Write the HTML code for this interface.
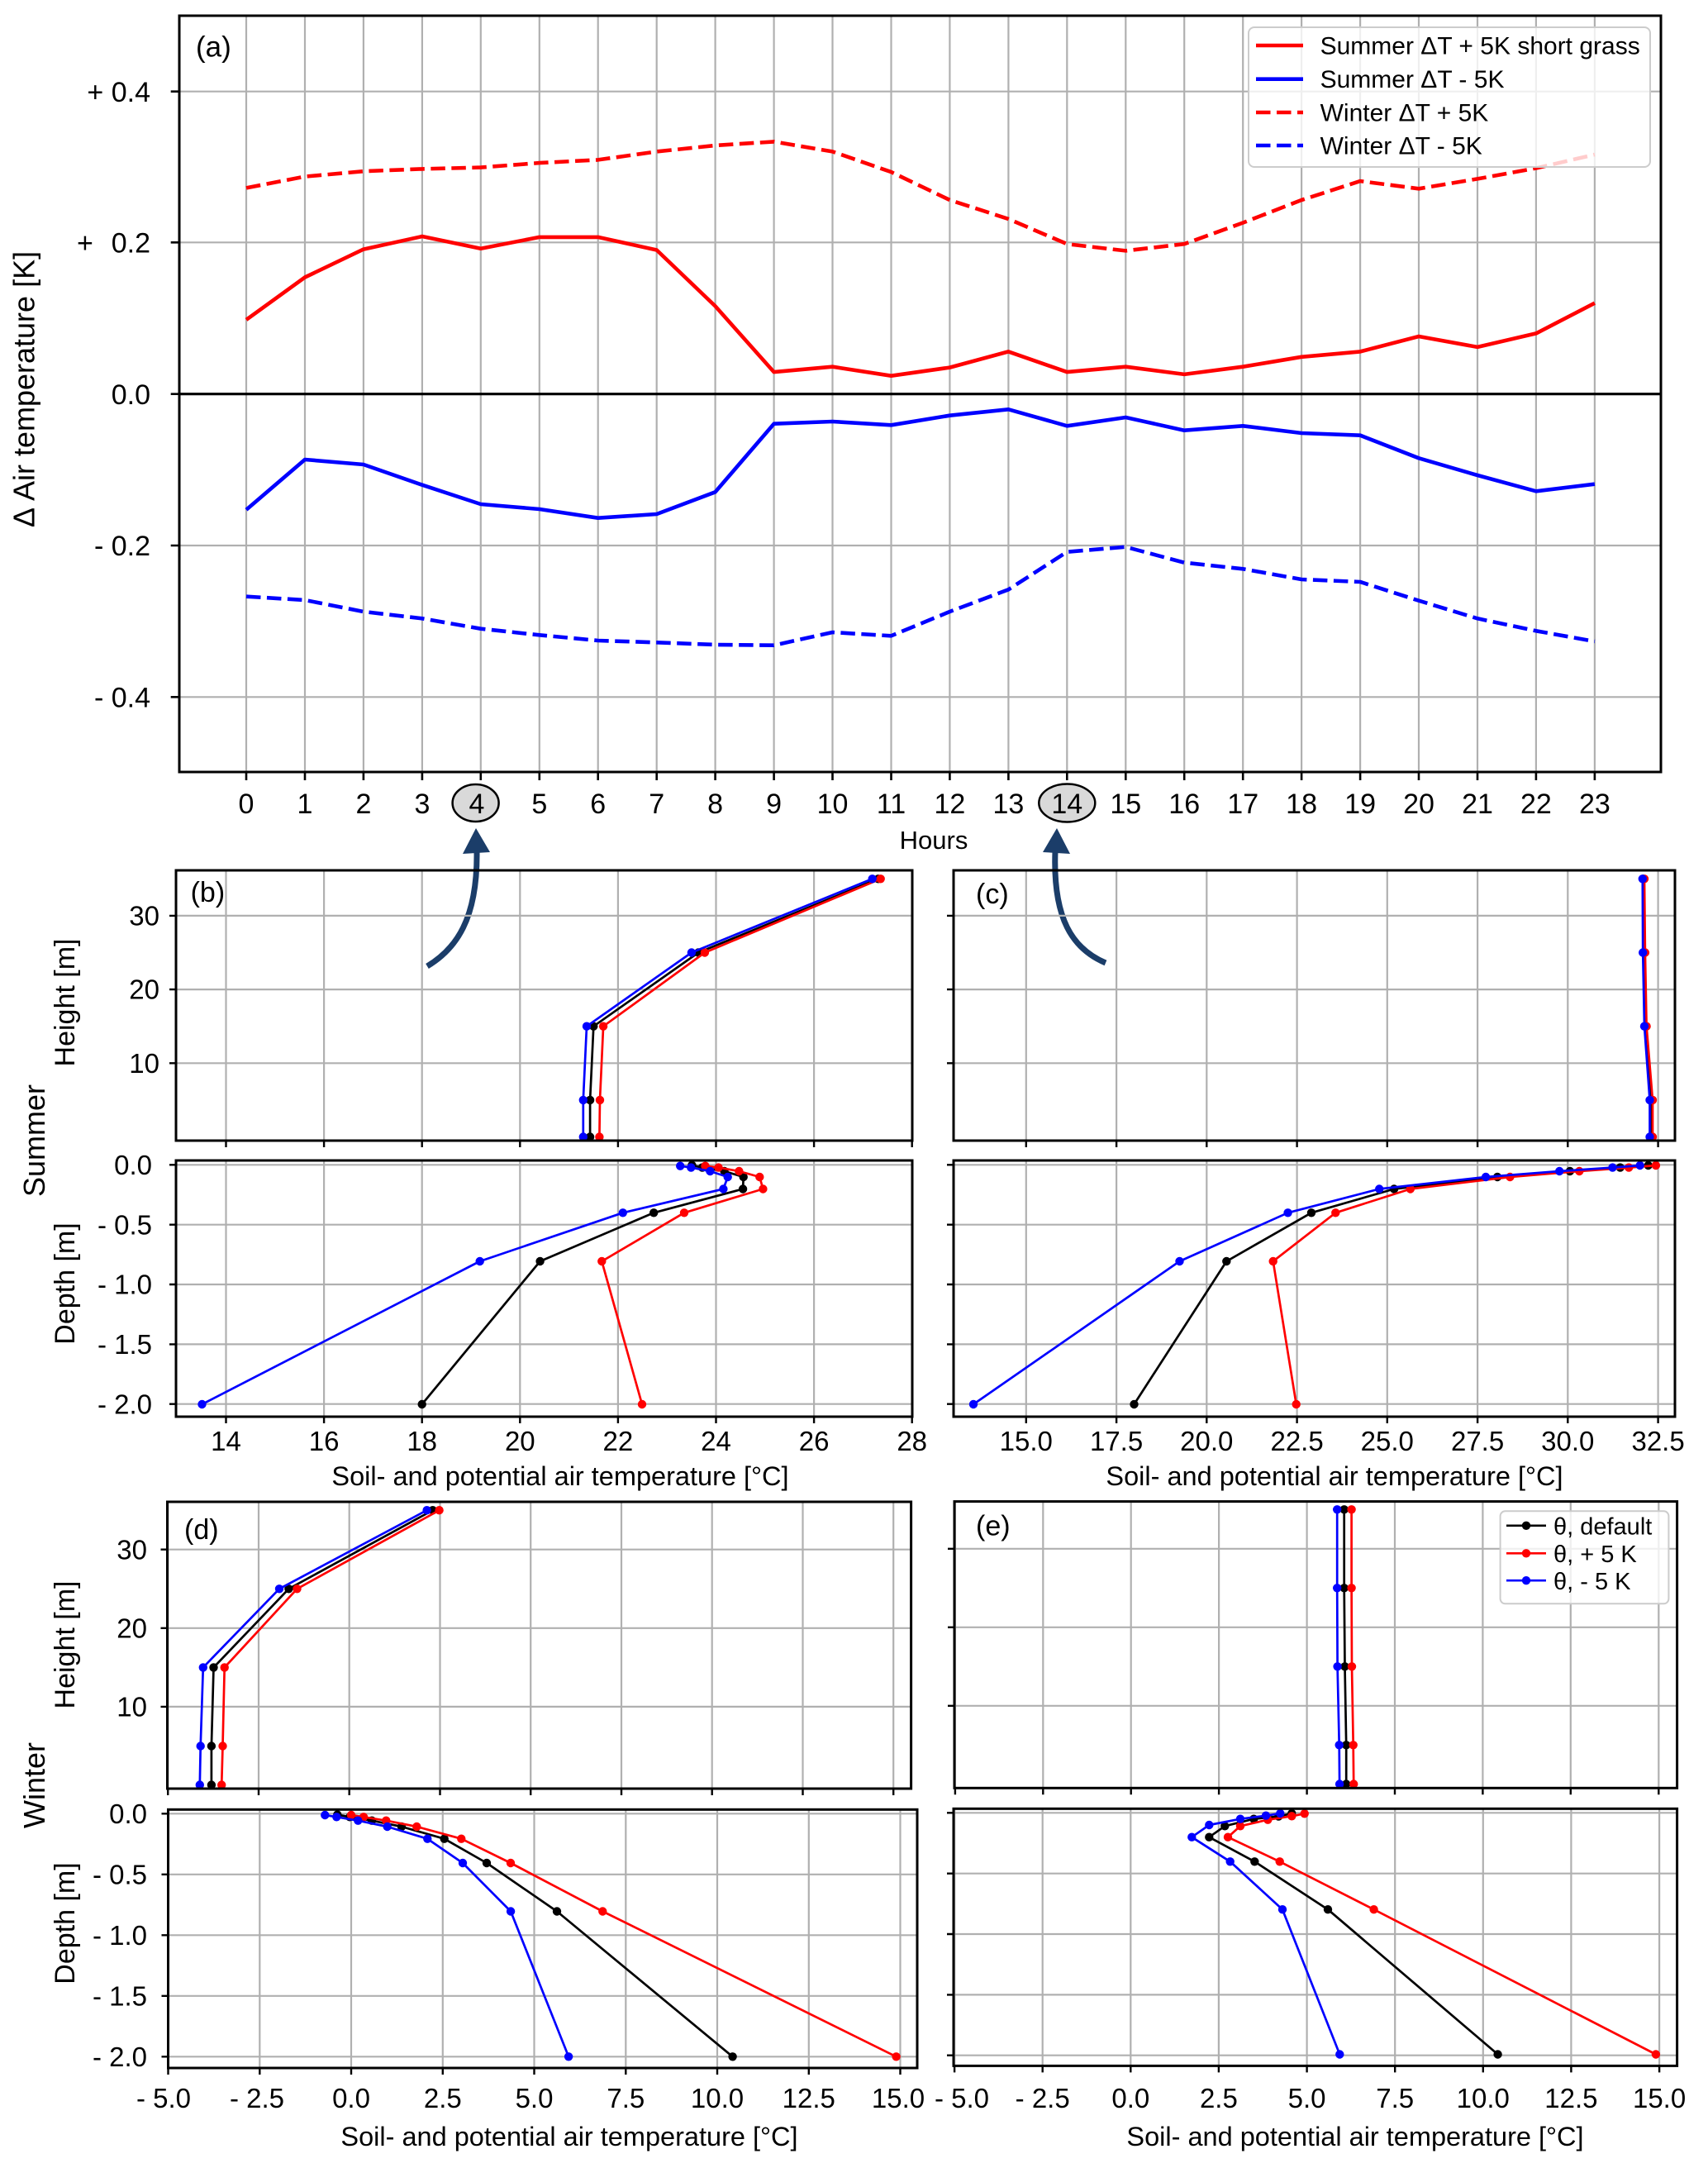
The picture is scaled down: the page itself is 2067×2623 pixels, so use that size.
<!DOCTYPE html>
<html><head><meta charset="utf-8"><style>
html,body{margin:0;padding:0;background:#fff;}
svg{display:block;}
text{font-family:"Liberation Sans",Arial,sans-serif;fill:#000;}
</style></head><body>
<svg xmlns="http://www.w3.org/2000/svg" width="2067" height="2623" viewBox="0 0 2067 2623">
<defs>
<marker id="mk" viewBox="-6 -6 12 12" markerWidth="12" markerHeight="12" refX="0" refY="0" markerUnits="userSpaceOnUse"><circle r="5.2" fill="#000"/></marker>
<marker id="mr" viewBox="-6 -6 12 12" markerWidth="12" markerHeight="12" refX="0" refY="0" markerUnits="userSpaceOnUse"><circle r="5.2" fill="#ff0000"/></marker>
<marker id="mb" viewBox="-6 -6 12 12" markerWidth="12" markerHeight="12" refX="0" refY="0" markerUnits="userSpaceOnUse"><circle r="5.2" fill="#0000ff"/></marker>
</defs>
<rect width="2067" height="2623" fill="#fff"/>

<!-- ================= PANEL A ================= -->
<g stroke="#b0b0b0" stroke-width="2.2">
<path d="M298,19V934M369,19V934M439.9,19V934M510.9,19V934M581.8,19V934M652.8,19V934M723.7,19V934M794.7,19V934M865.6,19V934M936.6,19V934M1007.5,19V934M1078.5,19V934M1149.4,19V934M1220.4,19V934M1291.3,19V934M1362.3,19V934M1433.2,19V934M1504.2,19V934M1575.1,19V934M1646.1,19V934M1717,19V934M1788,19V934M1858.9,19V934M1929.9,19V934"/>
<path d="M217,110.7H2010M217,293.3H2010M217,660H2010M217,843.3H2010"/>
</g>
<line x1="217" y1="476.7" x2="2010" y2="476.7" stroke="#000" stroke-width="3.2"/>
<g fill="none" stroke-width="4.6" stroke-linejoin="round">
<polyline stroke="#ff0000" points="298,386.9 369,335.5 439.9,301.6 510.9,286 581.8,300.7 652.8,286.9 723.7,286.9 794.7,302.5 865.6,370.4 936.6,450.1 1007.5,443.7 1078.5,454.7 1149.4,444.6 1220.4,425.4 1291.3,450.1 1362.3,443.7 1433.2,452.9 1504.2,443.7 1575.1,431.8 1646.1,425.4 1717,407 1788,419.9 1858.9,403.4 1929.9,366.7"/>
<polyline stroke="#0000ff" points="298,616.7 369,556 439.9,562 510.9,586.7 581.8,610 652.8,616 723.7,626.7 794.7,622 865.6,595.3 936.6,512.7 1007.5,510 1078.5,514.3 1149.4,502.7 1220.4,495.3 1291.3,515.3 1362.3,505 1433.2,520.7 1504.2,515.3 1575.1,524 1646.1,526.7 1717,554.3 1788,575 1858.9,594.3 1929.9,585.7"/>
<polyline stroke="#ff0000" stroke-dasharray="17.5 7.5" points="298,227.4 369,213.6 439.9,207.2 510.9,204.4 581.8,202.6 652.8,197.1 723.7,193.4 794.7,183.4 865.6,176 936.6,171.4 1007.5,183.4 1078.5,208.1 1149.4,242 1220.4,264.9 1291.3,295.2 1362.3,303.4 1433.2,295.2 1504.2,269.5 1575.1,242 1646.1,219.1 1717,228.3 1788,216.4 1858.9,203.5 1929.9,187"/>
<polyline stroke="#0000ff" stroke-dasharray="17.5 7.5" points="298,721.7 369,726 439.9,740 510.9,748.3 581.8,760.7 652.8,768.3 723.7,775 794.7,777.3 865.6,780 936.6,780.7 1007.5,765 1078.5,769.3 1149.4,740 1220.4,713.3 1291.3,667.7 1362.3,661.7 1433.2,680.7 1504.2,688.3 1575.1,701 1646.1,704 1717,726.7 1788,748.3 1858.9,763.3 1929.9,776"/>
</g>
<!-- legend a -->
<rect x="1511" y="33" width="486" height="169" rx="7" fill="#fff" fill-opacity="0.8" stroke="#cccccc" stroke-width="2"/>
<g stroke-width="4.6">
<line x1="1520" y1="55" x2="1577" y2="55" stroke="#ff0000"/>
<line x1="1520" y1="95.7" x2="1577" y2="95.7" stroke="#0000ff"/>
<line x1="1520" y1="136" x2="1577" y2="136" stroke="#ff0000" stroke-dasharray="17.5 7.5"/>
<line x1="1520" y1="176" x2="1577" y2="176" stroke="#0000ff" stroke-dasharray="17.5 7.5"/>
</g>
<g font-size="30">
<text x="1597.6" y="65.5">Summer ΔT + 5K short grass</text>
<text x="1597.6" y="106.2">Summer ΔT - 5K</text>
<text x="1597.6" y="146.5">Winter ΔT + 5K</text>
<text x="1597.6" y="186.5">Winter ΔT - 5K</text>
</g>
<rect x="217" y="19" width="1793" height="915" fill="none" stroke="#000" stroke-width="3"/>
<!-- ticks a -->
<g stroke="#000" stroke-width="2.6">
<path d="M206.7,110.7H217M206.7,293.3H217M206.7,476.7H217M206.7,660H217M206.7,843.3H217"/>
<path d="M298,934V944M369,934V944M439.9,934V944M510.9,934V944M581.8,934V944M652.8,934V944M723.7,934V944M794.7,934V944M865.6,934V944M936.6,934V944M1007.5,934V944M1078.5,934V944M1149.4,934V944M1220.4,934V944M1291.3,934V944M1362.3,934V944M1433.2,934V944M1504.2,934V944M1575.1,934V944M1646.1,934V944M1717,934V944M1788,934V944M1858.9,934V944M1929.9,934V944"/>
</g>
<text x="237" y="68.5" font-size="35">(a)</text>
<g font-size="34" text-anchor="end">
<text x="182" y="122.9">+ 0.4</text>
<text x="182" y="305.5">0.2</text>
<text x="182" y="488.9">0.0</text>
<text x="182" y="672.2">- 0.2</text>
<text x="182" y="855.5">- 0.4</text>
</g>
<text x="93" y="305.5" font-size="34">+</text>
<text transform="translate(41.5,471) rotate(-90)" text-anchor="middle" font-size="36">Δ Air temperature [K]</text>
<ellipse cx="575.6" cy="971.5" rx="28" ry="22.5" fill="#d9d9d9" stroke="#000" stroke-width="2.5"/>
<ellipse cx="1291.3" cy="971.5" rx="34" ry="23" fill="#d9d9d9" stroke="#000" stroke-width="2.5"/>
<g font-size="34" text-anchor="middle">
<text x="298" y="984">0</text><text x="369" y="984">1</text><text x="439.9" y="984">2</text><text x="510.9" y="984">3</text><text x="577" y="984">4</text><text x="652.8" y="984">5</text><text x="723.7" y="984">6</text><text x="794.7" y="984">7</text><text x="865.6" y="984">8</text><text x="936.6" y="984">9</text><text x="1007.5" y="984">10</text><text x="1078.5" y="984">11</text><text x="1149.4" y="984">12</text><text x="1220.4" y="984">13</text><text x="1291.3" y="984">14</text><text x="1362.3" y="984">15</text><text x="1433.2" y="984">16</text><text x="1504.2" y="984">17</text><text x="1575.1" y="984">18</text><text x="1646.1" y="984">19</text><text x="1717" y="984">20</text><text x="1788" y="984">21</text><text x="1858.9" y="984">22</text><text x="1929.9" y="984">23</text>
</g>
<text x="1130" y="1027" font-size="31" text-anchor="middle">Hours</text>

<!-- arrows -->
<path d="M517,1169 C552,1148 578,1112 577,1030" fill="none" stroke="#1b3d69" stroke-width="7"/>
<polygon points="576,1002 560,1033 593,1031" fill="#1b3d69"/>
<path d="M1338,1165 C1298,1148 1274,1112 1277,1030" fill="none" stroke="#1b3d69" stroke-width="7"/>
<polygon points="1279,1002 1262,1031 1295,1033" fill="#1b3d69"/>

<!-- ================= PANEL B ================= -->
<g stroke="#b0b0b0" stroke-width="2.2">
<path d="M273.5,1053V1380M392.1,1053V1380M510.7,1053V1380M629.3,1053V1380M747.9,1053V1380M866.5,1053V1380M985.1,1053V1380M1103.7,1053V1380"/>
<path d="M213,1107.9H1104M213,1197.1H1104M213,1286.3H1104"/>
<path d="M273.5,1404V1714M392.1,1404V1714M510.7,1404V1714M629.3,1404V1714M747.9,1404V1714M866.5,1404V1714M985.1,1404V1714M1103.7,1404V1714"/>
<path d="M213,1409.3H1104M213,1481.7H1104M213,1554H1104M213,1626.4H1104M213,1698.7H1104"/>
</g>
<g fill="none" stroke-width="2.7" stroke-linejoin="round">
<polyline stroke="#000" marker-start="url(#mk)" marker-mid="url(#mk)" marker-end="url(#mk)" points="1062.8,1063.3 845.2,1152.5 718.3,1241.7 714.1,1330.9 714.1,1375.5"/>
<polyline stroke="#ff0000" marker-start="url(#mr)" marker-mid="url(#mr)" marker-end="url(#mr)" points="1065.7,1063.3 852.9,1152.5 730.1,1241.7 726,1330.9 725.4,1375.5"/>
<polyline stroke="#0000ff" marker-start="url(#mb)" marker-mid="url(#mb)" marker-end="url(#mb)" points="1055.7,1063.3 836.9,1152.5 710,1241.7 705.8,1330.9 705.8,1375.5"/>
<polyline stroke="#000" marker-start="url(#mk)" marker-mid="url(#mk)" marker-end="url(#mk)" points="837.4,1409.8 849.9,1412.6 876.6,1417 899.7,1424 899.1,1438.5 791.2,1467.3 653.6,1526 510.7,1699"/>
<polyline stroke="#ff0000" marker-start="url(#mr)" marker-mid="url(#mr)" marker-end="url(#mr)" points="853.5,1410.7 869.5,1412.6 894.4,1417 919.3,1424 923.4,1438.5 828,1467.3 728.3,1526 777,1699"/>
<polyline stroke="#0000ff" marker-start="url(#mb)" marker-mid="url(#mb)" marker-end="url(#mb)" points="823.2,1410.7 836.3,1412.6 859.4,1417 880.7,1424 875.4,1438.5 753.8,1467.3 580.7,1526 244.5,1699"/>
</g>
<rect x="213" y="1053" width="891" height="327" fill="none" stroke="#000" stroke-width="3"/>
<rect x="213" y="1404" width="891" height="310" fill="none" stroke="#000" stroke-width="3"/>
<g stroke="#000" stroke-width="2.4">
<path d="M273.5,1380V1388M392.1,1380V1388M510.7,1380V1388M629.3,1380V1388M747.9,1380V1388M866.5,1380V1388M985.1,1380V1388M1103.7,1380V1388"/>
<path d="M273.5,1714V1722M392.1,1714V1722M510.7,1714V1722M629.3,1714V1722M747.9,1714V1722M866.5,1714V1722M985.1,1714V1722M1103.7,1714V1722"/>
<path d="M205,1107.9H213M205,1197.1H213M205,1286.3H213"/>
<path d="M205,1409.3H213M205,1481.7H213M205,1554H213M205,1626.4H213M205,1698.7H213"/>
</g>
<text x="230.6" y="1091" font-size="34">(b)</text>
<g font-size="33" text-anchor="end">
<text x="193" y="1119.5">30</text><text x="193" y="1208.7">20</text><text x="193" y="1297.9">10</text>
<text x="184" y="1421">0.0</text><text x="184" y="1493.4">- 0.5</text><text x="184" y="1565.7">- 1.0</text><text x="184" y="1638.1">- 1.5</text><text x="184" y="1710.4">- 2.0</text>
</g>
<g font-size="33" text-anchor="middle">
<text x="273.5" y="1755">14</text><text x="392.1" y="1755">16</text><text x="510.7" y="1755">18</text><text x="629.3" y="1755">20</text><text x="747.9" y="1755">22</text><text x="866.5" y="1755">24</text><text x="985.1" y="1755">26</text><text x="1103.7" y="1755">28</text>
</g>
<text x="678" y="1797" font-size="32.5" text-anchor="middle">Soil- and potential air temperature [°C]</text>
<text transform="translate(90,1213) rotate(-90)" text-anchor="middle" font-size="34">Height [m]</text>
<text transform="translate(90,1553) rotate(-90)" text-anchor="middle" font-size="34">Depth [m]</text>
<text transform="translate(54,1380) rotate(-90)" text-anchor="middle" font-size="36">Summer</text>

<!-- ================= PANEL C ================= -->
<g stroke="#b0b0b0" stroke-width="2.2">
<path d="M1241.8,1053V1380M1351.1,1053V1380M1460.3,1053V1380M1569.6,1053V1380M1678.8,1053V1380M1788.1,1053V1380M1897.3,1053V1380M2006.6,1053V1380"/>
<path d="M1154,1107.9H2027M1154,1197.1H2027M1154,1286.3H2027"/>
<path d="M1241.8,1404V1714M1351.1,1404V1714M1460.3,1404V1714M1569.6,1404V1714M1678.8,1404V1714M1788.1,1404V1714M1897.3,1404V1714M2006.6,1404V1714"/>
<path d="M1154,1409.3H2027M1154,1481.7H2027M1154,1554H2027M1154,1626.4H2027M1154,1698.7H2027"/>
</g>
<g fill="none" stroke-width="2.7" stroke-linejoin="round">
<polyline stroke="#000" marker-start="url(#mk)" marker-mid="url(#mk)" marker-end="url(#mk)" points="1988.6,1063.3 1989.1,1152.5 1991.3,1241.7 1998.2,1330.9 1998.2,1375.5"/>
<polyline stroke="#ff0000" marker-start="url(#mr)" marker-mid="url(#mr)" marker-end="url(#mr)" points="1990,1063.3 1990.9,1152.5 1992.6,1241.7 2000,1330.9 2000,1375.5"/>
<polyline stroke="#0000ff" marker-start="url(#mb)" marker-mid="url(#mb)" marker-end="url(#mb)" points="1987.8,1063.3 1988.2,1152.5 1990,1241.7 1996.5,1330.9 1996.5,1375.5"/>
<polyline stroke="#000" marker-start="url(#mk)" marker-mid="url(#mk)" marker-end="url(#mk)" points="1994.7,1410 1960.7,1412.6 1899.9,1417 1812.1,1424 1687.1,1438.5 1587,1467.3 1484.3,1526 1372.5,1699"/>
<polyline stroke="#ff0000" marker-start="url(#mr)" marker-mid="url(#mr)" marker-end="url(#mr)" points="2003.9,1410 1971.2,1412.6 1911.3,1417 1827.4,1424 1706.8,1438.5 1616.3,1467.3 1540.7,1526 1568.7,1699"/>
<polyline stroke="#0000ff" marker-start="url(#mb)" marker-mid="url(#mb)" marker-end="url(#mb)" points="1984.7,1410 1951.5,1412.6 1887.2,1417 1798.1,1424 1669.2,1438.5 1558.6,1467.3 1427.5,1526 1178,1699"/>
</g>
<rect x="1154" y="1053" width="873" height="327" fill="none" stroke="#000" stroke-width="3"/>
<rect x="1154" y="1404" width="873" height="310" fill="none" stroke="#000" stroke-width="3"/>
<g stroke="#000" stroke-width="2.4">
<path d="M1241.8,1380V1388M1351.1,1380V1388M1460.3,1380V1388M1569.6,1380V1388M1678.8,1380V1388M1788.1,1380V1388M1897.3,1380V1388M2006.6,1380V1388"/>
<path d="M1241.8,1714V1722M1351.1,1714V1722M1460.3,1714V1722M1569.6,1714V1722M1678.8,1714V1722M1788.1,1714V1722M1897.3,1714V1722M2006.6,1714V1722"/>
<path d="M1146,1107.9H1154M1146,1197.1H1154M1146,1286.3H1154"/>
<path d="M1146,1409.3H1154M1146,1481.7H1154M1146,1554H1154M1146,1626.4H1154M1146,1698.7H1154"/>
</g>
<text x="1181" y="1093" font-size="34">(c)</text>
<g font-size="33" text-anchor="middle">
<text x="1241.8" y="1755">15.0</text><text x="1351.1" y="1755">17.5</text><text x="1460.3" y="1755">20.0</text><text x="1569.6" y="1755">22.5</text><text x="1678.8" y="1755">25.0</text><text x="1788.1" y="1755">27.5</text><text x="1897.3" y="1755">30.0</text><text x="2006.6" y="1755">32.5</text>
</g>
<text x="1615" y="1797" font-size="32.5" text-anchor="middle">Soil- and potential air temperature [°C]</text>

<!-- ================= PANEL D ================= -->
<g stroke="#b0b0b0" stroke-width="2.2">
<path d="M203.2,1817V2164M313,1817V2164M422.7,1817V2164M532.5,1817V2164M642.2,1817V2164M752,1817V2164M861.7,1817V2164M971.5,1817V2164M1081.2,1817V2164"/>
<path d="M202.5,1874.7H1102.6M202.5,1969.8H1102.6M202.5,2064.9H1102.6"/>
<path d="M203.5,2189.3V2502M314.3,2189.3V2502M425,2189.3V2502M535.8,2189.3V2502M646.5,2189.3V2502M757.3,2189.3V2502M868,2189.3V2502M978.8,2189.3V2502M1089.5,2189.3V2502"/>
<path d="M203.5,2194.3H1110M203.5,2267.8H1110M203.5,2341.3H1110M203.5,2414.8H1110M203.5,2488.3H1110"/>
</g>
<g fill="none" stroke-width="2.7" stroke-linejoin="round">
<polyline stroke="#000" marker-start="url(#mk)" marker-mid="url(#mk)" marker-end="url(#mk)" points="523.7,1827.2 349.4,1922.3 258.5,2017.4 255.9,2112.5 255.9,2159.5"/>
<polyline stroke="#ff0000" marker-start="url(#mr)" marker-mid="url(#mr)" marker-end="url(#mr)" points="531.6,1827.2 359.5,1922.3 271.7,2017.4 269.5,2112.5 268.2,2159.5"/>
<polyline stroke="#0000ff" marker-start="url(#mb)" marker-mid="url(#mb)" marker-end="url(#mb)" points="516.6,1827.2 338,1922.3 245.8,2017.4 242.7,2112.5 241.8,2159.5"/>
<polyline stroke="#000" marker-start="url(#mk)" marker-mid="url(#mk)" marker-end="url(#mk)" points="408.3,2195.5 423.3,2198.3 450,2202.7 486,2210 537.7,2224.7 589,2254 674,2312.5 886.6,2488.3"/>
<polyline stroke="#ff0000" marker-start="url(#mr)" marker-mid="url(#mr)" marker-end="url(#mr)" points="425,2196 440,2198.3 467.3,2202.7 504.3,2210 558.3,2224.7 618,2254 729.3,2312.5 1084.6,2488.3"/>
<polyline stroke="#0000ff" marker-start="url(#mb)" marker-mid="url(#mb)" marker-end="url(#mb)" points="393.3,2196 407.3,2198.3 433.3,2202.7 468.7,2210 517.3,2224.7 560,2254 618.1,2312.5 688.1,2488.3"/>
</g>
<rect x="202.5" y="1817" width="900.1" height="347" fill="none" stroke="#000" stroke-width="3"/>
<rect x="203.5" y="2189.3" width="906.5" height="312.7" fill="none" stroke="#000" stroke-width="3"/>
<g stroke="#000" stroke-width="2.4">
<path d="M203.2,2164V2172M313,2164V2172M422.7,2164V2172M532.5,2164V2172M642.2,2164V2172M752,2164V2172M861.7,2164V2172M971.5,2164V2172M1081.2,2164V2172"/>
<path d="M203.5,2502V2510M314.3,2502V2510M425,2502V2510M535.8,2502V2510M646.5,2502V2510M757.3,2502V2510M868,2502V2510M978.8,2502V2510M1089.5,2502V2510"/>
<path d="M194.5,1874.7H202.5M194.5,1969.8H202.5M194.5,2064.9H202.5"/>
<path d="M195.5,2194.3H203.5M195.5,2267.8H203.5M195.5,2341.3H203.5M195.5,2414.8H203.5M195.5,2488.3H203.5"/>
</g>
<text x="223" y="1862" font-size="34">(d)</text>
<g font-size="33" text-anchor="end">
<text x="178" y="1886.5">30</text><text x="178" y="1981.6">20</text><text x="178" y="2076.7">10</text>
<text x="178" y="2206">0.0</text><text x="178" y="2279.5">- 0.5</text><text x="178" y="2353">- 1.0</text><text x="178" y="2426.5">- 1.5</text><text x="178" y="2500">- 2.0</text>
</g>
<g font-size="33" text-anchor="middle">
<text x="198" y="2550">- 5.0</text><text x="311" y="2550">- 2.5</text><text x="425" y="2550">0.0</text><text x="535.8" y="2550">2.5</text><text x="646.5" y="2550">5.0</text><text x="757.3" y="2550">7.5</text><text x="868" y="2550">10.0</text><text x="978.8" y="2550">12.5</text><text x="1087" y="2550">15.0</text>
</g>
<text x="689" y="2596" font-size="32.5" text-anchor="middle">Soil- and potential air temperature [°C]</text>
<text transform="translate(90,1990) rotate(-90)" text-anchor="middle" font-size="34">Height [m]</text>
<text transform="translate(90,2327) rotate(-90)" text-anchor="middle" font-size="34">Depth [m]</text>
<text transform="translate(54,2160) rotate(-90)" text-anchor="middle" font-size="36">Winter</text>

<!-- ================= PANEL E ================= -->
<g stroke="#b0b0b0" stroke-width="2.2">
<path d="M1155.9,1816.6V2163.3M1262.3,1816.6V2163.3M1368.7,1816.6V2163.3M1475.1,1816.6V2163.3M1581.6,1816.6V2163.3M1688,1816.6V2163.3M1794.4,1816.6V2163.3M1900.8,1816.6V2163.3M2007.3,1816.6V2163.3"/>
<path d="M1155,1873.8H2029.6M1155,1968.8H2029.6M1155,2063.8H2029.6"/>
<path d="M1155.1,2188.3V2499.4M1261.7,2188.3V2499.4M1368.3,2188.3V2499.4M1474.9,2188.3V2499.4M1581.6,2188.3V2499.4M1688.2,2188.3V2499.4M1794.8,2188.3V2499.4M1901.4,2188.3V2499.4M2008.1,2188.3V2499.4"/>
<path d="M1154,2193.3H2029.6M1154,2266.7H2029.6M1154,2340H2029.6M1154,2413.4H2029.6M1154,2486.7H2029.6"/>
</g>
<g fill="none" stroke-width="2.7" stroke-linejoin="round">
<polyline stroke="#000" marker-start="url(#mk)" marker-mid="url(#mk)" marker-end="url(#mk)" points="1626.7,1826.3 1626.7,1921.3 1627.5,2016.3 1629.2,2111.3 1629.2,2158.5"/>
<polyline stroke="#ff0000" marker-start="url(#mr)" marker-mid="url(#mr)" marker-end="url(#mr)" points="1635.6,1826.3 1635.6,1921.3 1636,2016.3 1637.7,2111.3 1638.2,2158.5"/>
<polyline stroke="#0000ff" marker-start="url(#mb)" marker-mid="url(#mb)" marker-end="url(#mb)" points="1618.2,1826.3 1618.2,1921.3 1618.6,2016.3 1620.7,2111.3 1621.1,2158.5"/>
<polyline stroke="#000" marker-start="url(#mk)" marker-mid="url(#mk)" marker-end="url(#mk)" points="1563.3,2194 1547.3,2197.6 1517.3,2200.7 1482.3,2209.3 1463.3,2222.7 1518.3,2252.3 1607,2310.2 1812.6,2485.5"/>
<polyline stroke="#ff0000" marker-start="url(#mr)" marker-mid="url(#mr)" marker-end="url(#mr)" points="1578.7,2194.3 1563.3,2197.3 1534.3,2201.7 1501,2209.3 1486,2222.7 1548.7,2252.3 1662.6,2310.2 2003.9,2485.5"/>
<polyline stroke="#0000ff" marker-start="url(#mb)" marker-mid="url(#mb)" marker-end="url(#mb)" points="1549.3,2194 1532,2196.7 1501,2200.7 1463.3,2208 1442.3,2222.7 1488.7,2252.3 1552,2310.2 1621.3,2485.5"/>
</g>
<!-- legend e -->
<rect x="1815.6" y="1828.3" width="203.8" height="112" rx="6" fill="#fff" fill-opacity="0.8" stroke="#cccccc" stroke-width="2"/>
<g stroke-width="2.7">
<line x1="1823" y1="1845.8" x2="1871" y2="1845.8" stroke="#000"/>
<line x1="1823" y1="1879.3" x2="1871" y2="1879.3" stroke="#ff0000"/>
<line x1="1823" y1="1912.2" x2="1871" y2="1912.2" stroke="#0000ff"/>
</g>
<circle cx="1847" cy="1845.8" r="5.2" fill="#000"/>
<circle cx="1847" cy="1879.3" r="5.2" fill="#ff0000"/>
<circle cx="1847" cy="1912.2" r="5.2" fill="#0000ff"/>
<g font-size="29">
<text x="1880" y="1856.5">θ, default</text>
<text x="1880" y="1890">θ, + 5 K</text>
<text x="1880" y="1923">θ, - 5 K</text>
</g>
<rect x="1155" y="1816.6" width="874.6" height="346.7" fill="none" stroke="#000" stroke-width="3"/>
<rect x="1154" y="2188.3" width="875.6" height="311.1" fill="none" stroke="#000" stroke-width="3"/>
<g stroke="#000" stroke-width="2.4">
<path d="M1155.9,2163.3V2171.3M1262.3,2163.3V2171.3M1368.7,2163.3V2171.3M1475.1,2163.3V2171.3M1581.6,2163.3V2171.3M1688,2163.3V2171.3M1794.4,2163.3V2171.3M1900.8,2163.3V2171.3M2007.3,2163.3V2171.3"/>
<path d="M1155.1,2499.4V2507.4M1261.7,2499.4V2507.4M1368.3,2499.4V2507.4M1474.9,2499.4V2507.4M1581.6,2499.4V2507.4M1688.2,2499.4V2507.4M1794.8,2499.4V2507.4M1901.4,2499.4V2507.4M2008.1,2499.4V2507.4"/>
<path d="M1147,1873.8H1155M1147,1968.8H1155M1147,2063.8H1155"/>
<path d="M1146,2193.3H1154M1146,2266.7H1154M1146,2340H1154M1146,2413.4H1154M1146,2486.7H1154"/>
</g>
<text x="1181" y="1857.5" font-size="34">(e)</text>
<g font-size="33" text-anchor="middle">
<text x="1164" y="2550">- 5.0</text><text x="1261.7" y="2550">- 2.5</text><text x="1368.3" y="2550">0.0</text><text x="1474.9" y="2550">2.5</text><text x="1581.6" y="2550">5.0</text><text x="1688.2" y="2550">7.5</text><text x="1794.8" y="2550">10.0</text><text x="1901.4" y="2550">12.5</text><text x="2008.1" y="2550">15.0</text>
</g>
<text x="1640" y="2596" font-size="32.5" text-anchor="middle">Soil- and potential air temperature [°C]</text>
</svg>
</body></html>
